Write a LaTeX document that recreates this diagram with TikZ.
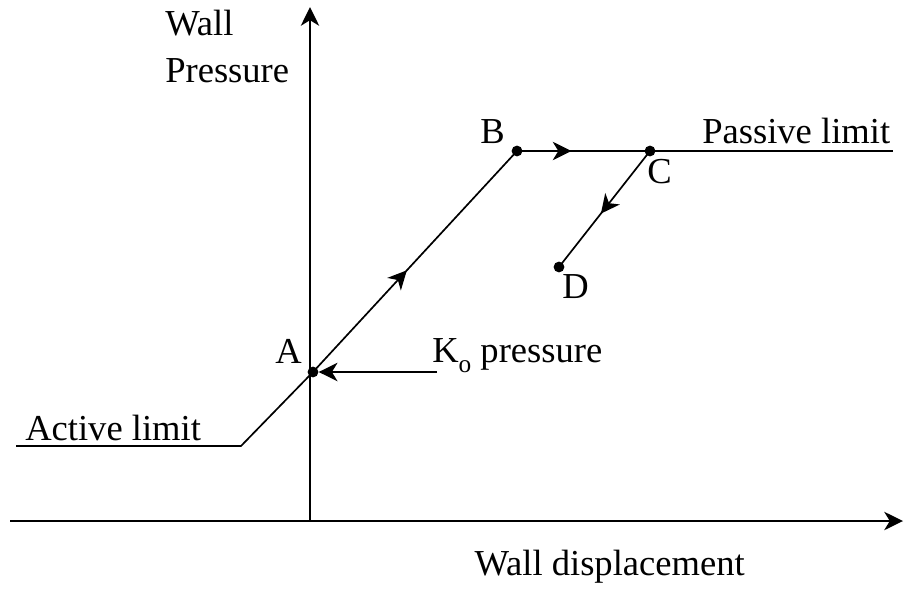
\documentclass[tikz,border=0pt]{standalone}
\usepackage{fontspec}
\setmainfont{Liberation Serif}
\usetikzlibrary{arrows.meta,decorations.markings}

\tikzset{
  tip/.style={-{Stealth[length=0.47cm,width=0.46cm,inset=0.14cm]}},
  axis/.style={tip, line width=1.2pt},
  curve/.style={line width=1.2pt},
  dot/.style={circle, fill, inner sep=0pt, minimum size=0.27cm},
  label/.style={inner sep=0pt, font=\fontsize{26}{33}\selectfont},
  midarrow/.style={postaction={decorate},
    decoration={markings, mark=at position #1 with
      {\arrow{Stealth[length=0.47cm,width=0.46cm,inset=0.14cm]}}}}
}
\newcommand{\lowsub}[1]{\raisebox{-0.28em}{\fontsize{18}{18}\selectfont #1}}

\begin{document}
\begin{tikzpicture}[x=0.025cm, y=-0.025cm]
\useasboundingbox (0,0) rectangle (906,592);

% axes
\coordinate (origin) at (310,521);
\coordinate (xStart) at (10,521);
\coordinate (xEnd) at (903,521);
\coordinate (yEnd) at (310,7);
\draw[axis] (xStart) -- (xEnd);
\draw[axis] (origin) -- (yEnd);

% points
\node[dot] (A) at (313,372) {};
\node[dot] (B) at (517,151) {};
\node[dot] (C) at (650,151) {};
\node[dot] (D) at (559,267) {};
\coordinate (actEnd) at (16,446);
\coordinate (corner) at (241,446);
\coordinate (pasEnd) at (893,151);
\coordinate (koStart) at (437,372);

% wall pressure path
\draw[curve] (actEnd) -- (corner) -- (A.center);
\draw[curve, midarrow=0.46] (A.center) -- (B.center);
\draw[curve, midarrow=0.41] (B.center) -- (C.center);
\draw[curve] (C.center) -- (pasEnd);
\draw[curve, midarrow=0.54] (C.center) -- (D.center);
\draw[curve, tip] (koStart) -- (A);

% labels
\node[label, anchor=base east] (labA) at (302,363) {A};
\node[label, anchor=base east] (labB) at (505,143) {B};
\node[label, anchor=base west] (labC) at (647,183) {C};
\node[label, anchor=base west] (labD) at (562,298) {D};
\node[label, anchor=base west] (active) at (25,440) {Active limit};
\node[label, anchor=base west] (passive) at (702,143) {Passive limit};
\node[label, anchor=base west] (ko) at (432,362) {K\lowsub{o} pressure};
\node[label, anchor=base west, align=left] (yLabel) at (165,82) {Wall\\Pressure};
\node[label, anchor=base east] (xLabel) at (745,575) {Wall displacement};
\end{tikzpicture}
\end{document}
